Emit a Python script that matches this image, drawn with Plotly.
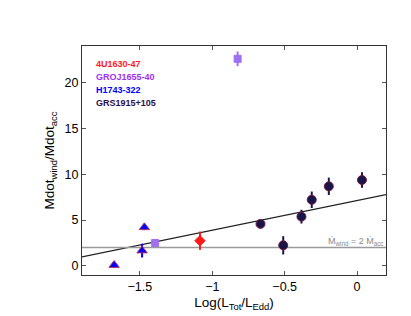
import plotly.graph_objects as go

# ---- data ----
src_4u_x = [-1.085]
src_4u_y = [2.74]
src_4u_err = [1.0]

src_groj_x = [-1.395, -0.825]
src_groj_y = [2.49, 22.6]
src_groj_err = [0.4, 0.8]

src_h_x = [-1.678, -1.469, -1.485]
src_h_y = [0.08, 4.2, 1.66]
src_h_err = [0.3, 0.3, 0.75]

src_grs_x = [-0.667, -0.510, -0.384, -0.313, -0.195, 0.034]
src_grs_y = [4.58, 2.24, 5.37, 7.21, 8.68, 9.37]
src_grs_err = [0.3, 1.0, 0.75, 0.9, 0.95, 0.85]

fit_slope = 3.24
fit_intercept = 7.13
fit_x = [-1.9, 0.2]
ratio_level = 2

legend_names = ["4U1630-47", "GROJ1655-40", "H1743-322", "GRS1915+105"]
legend_colors = ["#ff1a1a", "#a030f0", "#0000ff", "#2a0f4a"]

x_ticks = [-1.5, -1, -0.5, 0]
y_ticks = [0, 5, 10, 15, 20]

fig = go.Figure()

# fit line
fig.add_trace(go.Scatter(x=fit_x, y=[fit_slope * v + fit_intercept for v in fit_x],
                         mode="lines", line=dict(color="#222222", width=1.3),
                         showlegend=False, hoverinfo="skip"))
# horizontal line Mwind = 2 Macc
fig.add_trace(go.Scatter(x=fit_x, y=[ratio_level, ratio_level], mode="lines",
                         line=dict(color="#9a9a9a", width=1.3),
                         showlegend=False, hoverinfo="skip"))

def pts(x, y, err, color, symbol, size, edge):
    fig.add_trace(go.Scatter(
        x=x, y=y, mode="markers",
        marker=dict(color=color, symbol=symbol, size=size,
                    line=dict(color=edge, width=1)),
        error_y=dict(type="data", array=err, color=color, thickness=2, width=0),
        showlegend=False))

pts(src_h_x, src_h_y, src_h_err, "#0000ff", "triangle-up", 9, "#b03060")
pts(src_groj_x, src_groj_y, src_groj_err, "#a070f0", "square", 7, "#a070f0")
pts(src_4u_x, src_4u_y, src_4u_err, "#ff1a1a", "diamond", 8, "#ff1a1a")
pts(src_grs_x, src_grs_y, src_grs_err, "#16164a", "circle", 9, "#7a1a3a")

annotations = []
ys = [0.921, 0.866, 0.808, 0.753]
for name, col, yy in zip(legend_names, legend_colors, ys):
    annotations.append(dict(text="<b>" + name + "</b>", x=0.038, y=yy, xref="paper", yref="paper",
                            xanchor="left", yanchor="middle", showarrow=False,
                            font=dict(color=col, size=9, family="Liberation Sans, Arial")))
annotations.append(dict(text="Ṁ<sub>wind</sub> = 2 Ṁ<sub>acc</sub>", x=0.2, y=ratio_level,
                        xref="x", yref="y", xanchor="right", yanchor="bottom",
                        showarrow=False, yshift=-1,
                        font=dict(color="#8a8a8a", size=9, family="Liberation Sans, Arial")))

fig.update_layout(
    width=411, height=316,
    margin=dict(l=74, r=33, t=38, b=49),
    paper_bgcolor="white", plot_bgcolor="white",
    font=dict(family="Liberation Sans, Arial", size=12.5, color="black"),
    annotations=annotations,
    xaxis=dict(range=[-1.9, 0.2], tickvals=x_ticks, ticktext=["−1.5", "−1", "−0.5", "0"],
               showgrid=False, zeroline=False, showline=True, linecolor="#333333",
               linewidth=1, mirror="ticks", ticks="inside", ticklen=4, tickcolor="#555555",
               title=dict(text="Log(L<sub>Tot</sub>/L<sub>Edd</sub>)", font=dict(size=13.5), standoff=4)),
    yaxis=dict(range=[-1, 24], tickvals=y_ticks,
               showgrid=False, zeroline=False, showline=True, linecolor="#333333",
               linewidth=1, mirror="ticks", ticks="inside", ticklen=4, tickcolor="#555555",
               title=dict(text="Mdot<sub>wind</sub>/Mdot<sub>acc</sub>", font=dict(size=13.5), standoff=6)),
)

fig.write_html("out.html")
